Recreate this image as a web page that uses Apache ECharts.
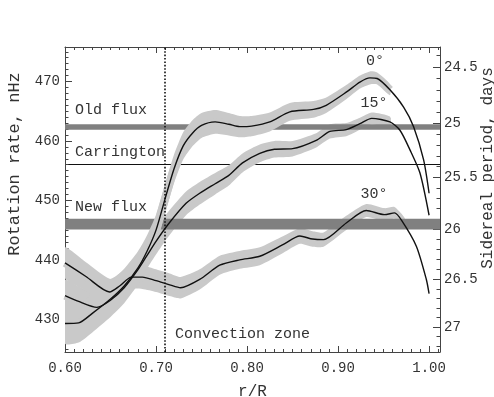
<!DOCTYPE html>
<html><head><meta charset="utf-8">
<script src="https://cdn.jsdelivr.net/npm/echarts@6/dist/echarts.min.js"></script>
<style>html,body{margin:0;padding:0;background:#fff}#c{width:494px;height:397px}</style>
</head><body><div id="c"></div>
<script>
// ---- data ----
const r0  = [0.600,0.615,0.630,0.650,0.665,0.680,0.690,0.700,0.710,0.720,0.730,0.740,0.750,0.765,0.780,0.792,0.805,0.825,0.847,0.873,0.887,0.909,0.924,0.935,0.943,0.957,0.972,0.983,0.994,1.000];
const v0  = [429.3,429.4,431.0,433.4,435.6,438.6,441.4,445.0,450.3,455.4,459.2,461.3,462.6,463.2,462.8,462.4,462.5,463.2,464.9,465.3,466.0,468.2,469.9,470.6,470.5,468.6,465.7,462.4,456.8,451.2];
const e0  = [3.4,3.3,3.2,3.0,2.9,2.8,2.7,2.6,2.5,2.4,2.3,2.2,2.1,2.0,1.9,1.8,1.7,1.6,1.5,1.4,1.3,1.2,1.1,1.1,1.0,0.9,null,null,null,null];

const r15 = [0.600,0.615,0.635,0.650,0.665,0.680,0.690,0.700,0.713,0.733,0.748,0.765,0.780,0.795,0.814,0.830,0.850,0.876,0.891,0.909,0.924,0.937,0.957,0.968,0.979,0.990,1.000];
const v15 = [434.0,433.0,432.0,433.2,435.3,438.3,440.7,443.1,445.9,449.5,451.2,452.8,454.2,456.3,457.9,458.6,458.7,460.1,461.6,461.9,462.9,463.8,463.2,461.8,458.5,454.6,447.5];
const e15 = [2.6,2.5,2.4,2.4,2.3,2.3,2.2,2.2,2.1,2.0,1.9,1.8,1.7,1.6,1.5,1.4,1.3,1.2,1.2,1.1,1.0,1.0,0.9,null,null,null,null];

const r30 = [0.600,0.623,0.649,0.660,0.673,0.685,0.700,0.715,0.727,0.748,0.770,0.792,0.814,0.840,0.858,0.872,0.884,0.909,0.931,0.951,0.962,0.970,0.986,0.997,1.000];
const v30 = [439.5,437.2,434.6,435.6,437.1,437.1,436.5,435.8,435.3,436.7,439.1,440.0,440.6,442.6,444.0,443.5,443.4,446.2,448.3,447.6,447.9,446.6,442.3,436.7,434.3];
const e30 = [2.6,2.4,2.2,2.1,2.0,2.0,1.9,1.9,1.8,1.7,1.6,1.5,1.5,1.4,1.3,1.3,1.2,1.2,1.1,1.1,1.0,0.9,null,null,null];

const oldFlux = [461.9, 462.8];       // nHz band
const newFlux = [445.1, 446.9];       // nHz band
const carrington = 456.0;             // nHz
const convectionBase = 0.714;         // r/R

const xTicks = [0.60, 0.70, 0.80, 0.90, 1.00];
const yTicks = [430, 440, 450, 460, 470];
const periodTicks = [24.5, 25, 25.5, 26, 26.5, 27];   // days

const xMin = 0.6, xMax = 1.012, yMin = 424.5, yMax = 475.8;

// minor ticks
const xMinor = []; for (let i = 60; i <= 101; i++) xMinor.push(i / 100);
const yMinor = []; for (let i = 425; i <= 475; i++) yMinor.push(i);
const pMinor = []; for (let i = 244; i <= 272; i++) pMinor.push(i / 10);
const toNHz = p => 1e9 / (p * 86400);

const FONT = 'Liberation Mono';
const AX = '#444';
const BAND = '#c9c9c9';

function pts(r, v) { return r.map((x, i) => [x, v[i]]); }
function bandSeries(r, v, e, z) {
  const idx = r.map((_, i) => i).filter(i => e[i] != null);
  return [
    {type: 'custom', z: z, silent: true, clip: true, animation: false,
     xAxisIndex: 0, yAxisIndex: 0,
     data: [[r[idx[0]], v[idx[0]]]],
     renderItem: function (params, api) {
       const up = idx.map(i => api.coord([r[i], v[i] + e[i]]));
       const lo = idx.map(i => api.coord([r[i], v[i] - e[i]])).reverse();
       return {type: 'polygon', shape: {points: up.concat(lo), smooth: 0.2},
               style: {fill: BAND, stroke: null}};
     }},
    {type: 'line', symbol: 'none', silent: true, z: z, smooth: 0.25, animation: false,
     data: idx.map(i => [r[i], v[i]]),
     lineStyle: {width: 8, color: BAND, cap: 'butt', join: 'round'}}
  ];
}
function curve(r, v, extra) {
  return Object.assign({type: 'line', symbol: 'none', silent: true, z: 4, smooth: 0.25,
    animation: false, data: pts(r, v), lineStyle: {color: '#111', width: 1.4}}, extra || {});
}

const xBase = {type: 'value', min: xMin, max: xMax, splitLine: {show: false}};
const yBase = {type: 'value', min: yMin, max: yMax, splitLine: {show: false}};
const line = {show: true, onZero: false, lineStyle: {color: AX, width: 1}};
const tickStyle = {color: AX, width: 1};
const labelStyle = {fontFamily: FONT, fontSize: 14, color: '#333'};

const option = {
  animation: false,
  backgroundColor: '#fff',
  grid: {left: 65, right: 54, top: 47, bottom: 45, outerBoundsMode: 'none'},
  xAxis: [
    Object.assign({}, xBase, {position: 'bottom', axisLine: line,
      axisTick: {inside: true, length: 6, lineStyle: tickStyle, customValues: xTicks},
      axisLabel: Object.assign({customValues: xTicks, margin: 9, formatter: v => v.toFixed(2)}, labelStyle),
      name: 'r/R', nameLocation: 'middle', nameGap: 32,
      nameTextStyle: {fontFamily: FONT, fontSize: 16, color: '#333'}}),
    Object.assign({}, xBase, {position: 'bottom', axisLine: {show: false, onZero: false},
      axisTick: {inside: true, length: 3, lineStyle: tickStyle, customValues: xMinor},
      axisLabel: {show: false}}),
    Object.assign({}, xBase, {position: 'top', axisLine: line,
      axisTick: {inside: true, length: 6, lineStyle: tickStyle, customValues: xTicks},
      axisLabel: {show: false}}),
    Object.assign({}, xBase, {position: 'top', axisLine: {show: false, onZero: false},
      axisTick: {inside: true, length: 3, lineStyle: tickStyle, customValues: xMinor},
      axisLabel: {show: false}})
  ],
  yAxis: [
    Object.assign({}, yBase, {position: 'left', axisLine: line,
      axisTick: {inside: true, length: 7, lineStyle: tickStyle, customValues: yTicks},
      axisLabel: Object.assign({customValues: yTicks, margin: 5}, labelStyle)}),
    Object.assign({}, yBase, {position: 'left', axisLine: {show: false, onZero: false},
      axisTick: {inside: true, length: 3.5, lineStyle: tickStyle, customValues: yMinor},
      axisLabel: {show: false}}),
    Object.assign({}, yBase, {position: 'right', axisLine: line,
      axisTick: {inside: true, length: 7, lineStyle: tickStyle, customValues: periodTicks.map(toNHz)},
      axisLabel: Object.assign({customValues: periodTicks.map(toNHz), margin: 4,
        formatter: v => { const p = Math.round(1e10 / (86400 * v)) / 10;
                          return Number.isInteger(p) ? String(p) : p.toFixed(1); }}, labelStyle)}),
    Object.assign({}, yBase, {position: 'right', axisLine: {show: false, onZero: false},
      axisTick: {inside: true, length: 3.5, lineStyle: tickStyle, customValues: pMinor.map(toNHz)},
      axisLabel: {show: false}})
  ],
  series: [].concat(
    bandSeries(r15, v15, e15, 1),
    bandSeries(r30, v30, e30, 1),
    bandSeries(r0, v0, e0, 3),
    [
      curve(r30, v30, {
        markArea: {silent: true, z: 2, itemStyle: {color: '#808080', opacity: 1},
          data: [[{yAxis: oldFlux[0]}, {yAxis: oldFlux[1]}], [{yAxis: newFlux[0]}, {yAxis: newFlux[1]}]]},
        markLine: {silent: true, z: 0, symbol: ['none', 'none'], label: {show: false},
          lineStyle: {color: '#111', width: 1, type: 'solid'}, data: [{yAxis: carrington}]}
      }),
      curve(r15, v15),
      curve(r0, v0, {
        markLine: {silent: true, z: 10, symbol: ['none', 'none'], label: {show: false},
          lineStyle: {color: '#111', width: 1.6, type: [1.6, 1.8]}, data: [{xAxis: convectionBase}]}
      })
    ]
  ),
  graphic: {elements: [
    {type: 'text', x: 75, y: 110, style: {text: 'Old flux', font: '15px "Liberation Mono"', fill: '#333', verticalAlign: 'middle'}},
    {type: 'text', x: 75, y: 152, style: {text: 'Carrington', font: '15px "Liberation Mono"', fill: '#333', verticalAlign: 'middle'}},
    {type: 'text', x: 75, y: 207, style: {text: 'New flux', font: '15px "Liberation Mono"', fill: '#333', verticalAlign: 'middle'}},
    {type: 'text', x: 175, y: 334, style: {text: 'Convection zone', font: '15px "Liberation Mono"', fill: '#333', verticalAlign: 'middle'}},
    {type: 'text', x: 375, y: 61, style: {text: '0°', font: '15px "Liberation Mono"', fill: '#333', align: 'center', verticalAlign: 'middle'}},
    {type: 'text', x: 374, y: 103, style: {text: '15°', font: '15px "Liberation Mono"', fill: '#333', align: 'center', verticalAlign: 'middle'}},
    {type: 'text', x: 374, y: 194, style: {text: '30°', font: '15px "Liberation Mono"', fill: '#333', align: 'center', verticalAlign: 'middle'}},
    {type: 'text', x: 14, y: 164, rotation: Math.PI / 2, style: {text: 'Rotation rate, nHz', font: '17px "Liberation Mono"', fill: '#333', align: 'center', verticalAlign: 'middle'}},
    {type: 'text', x: 488, y: 168, rotation: Math.PI / 2, style: {text: 'Sidereal period, days', font: '16px "Liberation Mono"', fill: '#333', align: 'center', verticalAlign: 'middle'}}
  ]}
};

const chart = echarts.init(document.getElementById('c'), null, {renderer: 'canvas'});
chart.setOption(option);
</script>
</body></html>
